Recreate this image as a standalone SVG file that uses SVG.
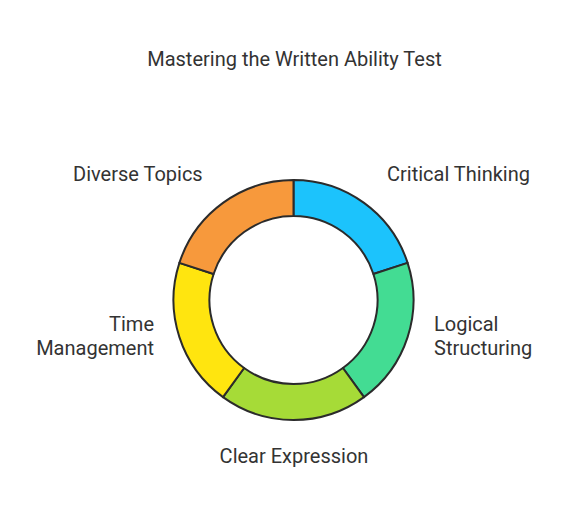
<svg xmlns="http://www.w3.org/2000/svg" width="565" height="516" viewBox="0 0 565 516">
<style>
.t{font-family:Roboto,"Liberation Sans",sans-serif;font-size:20px;fill:#333333}
.seg{stroke:#2b2b2b;stroke-width:2;stroke-linejoin:round}
</style>
<rect width="565" height="516" fill="#ffffff"/>
<text class="t" x="294.5" y="66" text-anchor="middle">Mastering the Written Ability Test</text>
<g id="critical-thinking">
<path class="seg" fill="#1CC3FC" d="M293.5,180 A120,120 0 0 1 407.6,262.9 L373.4,274.0 A84,84 0 0 0 293.5,216 Z"/>
<text class="t" x="387" y="181">Critical Thinking</text>
</g>
<g id="logical-structuring">
<path class="seg" fill="#43DC93" d="M407.6,262.9 A120,120 0 0 1 364.0,397.1 L342.9,368.0 A84,84 0 0 0 373.4,274.0 Z"/>
<text class="t" x="434" y="331">Logical</text>
<text class="t" x="434" y="355">Structuring</text>
</g>
<g id="clear-expression">
<path class="seg" fill="#A6DB37" d="M364.0,397.1 A120,120 0 0 1 223.0,397.1 L244.1,368.0 A84,84 0 0 0 342.9,368.0 Z"/>
<text class="t" x="294" y="463" text-anchor="middle">Clear Expression</text>
</g>
<g id="time-management">
<path class="seg" fill="#FFE50F" d="M223.0,397.1 A120,120 0 0 1 179.4,262.9 L213.6,274.0 A84,84 0 0 0 244.1,368.0 Z"/>
<text class="t" x="154" y="331" text-anchor="end">Time</text>
<text class="t" x="154" y="355" text-anchor="end">Management</text>
</g>
<g id="diverse-topics">
<path class="seg" fill="#F7993C" d="M179.4,262.9 A120,120 0 0 1 293.5,180 L293.5,216 A84,84 0 0 0 213.6,274.0 Z"/>
<text class="t" x="73" y="181">Diverse Topics</text>
</g>
<g id="connectors"></g>
</svg>
